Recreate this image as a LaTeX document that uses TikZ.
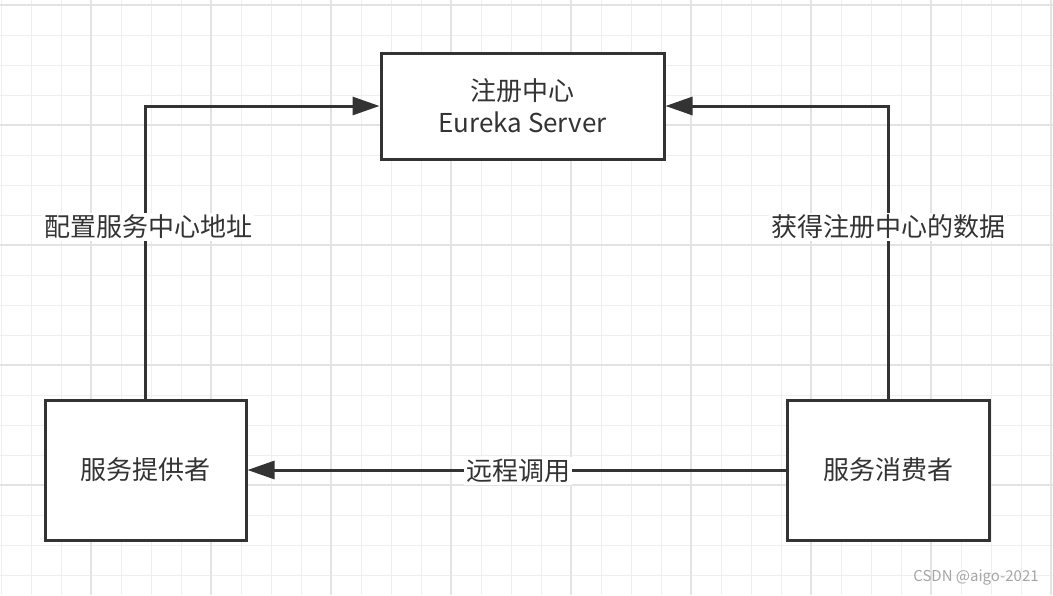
\documentclass[tikz,border=0pt]{standalone}
\usepackage{fontspec}
\setmainfont{Noto Sans CJK SC}
\usetikzlibrary{arrows.meta,positioning}
\definecolor{ink}{HTML}{333333}
\definecolor{gridminor}{HTML}{EFEFEF}
\definecolor{gridmajor}{HTML}{E3E3E3}
\tikzset{
  box/.style={draw=ink, line width=1.5pt, fill=white, text=ink, inner sep=0pt, align=center, font=\fontsize{13}{16}\selectfont},
  conn/.style={draw=ink, line width=1.5pt, -{Triangle[length=13.5pt,width=9pt]}},
  lbl/.style={fill=white, text=ink, inner sep=1pt, font=\fontsize{13}{16}\selectfont},
}
\begin{document}
\begin{tikzpicture}[x=0.5pt,y=-0.5pt]
\useasboundingbox (0,0) rectangle (1053,595);
\fill[white] (0,0) rectangle (1053,595);
% background grid
\foreach \x in {1,31,...,1051} \draw[gridminor, line width=0.5pt] (\x,0) -- (\x,595);
\foreach \y in {5,35,...,595} \draw[gridminor, line width=0.5pt] (0,\y) -- (1053,\y);
\foreach \x in {91,211,...,1051} \draw[gridmajor, line width=0.6pt] (\x,0) -- (\x,595);
\foreach \y in {5,125,...,595} \draw[gridmajor, line width=0.6pt] (0,\y) -- (1053,\y);
% boxes
\node[box, minimum width=141.5pt, minimum height=53pt] (box_registry) at (522.5,106) {注册中心\\Eureka Server};
\node[box, minimum width=100.5pt, minimum height=70pt] (box_provider) at (145.5,470) {服务提供者};
\node[box, minimum width=101pt, minimum height=70pt] (box_consumer) at (888,470) {服务消费者};
% connectors
\draw[conn] (box_provider.north) |- (box_registry.west);
\draw[conn] (box_consumer.north) |- (box_registry.east);
\draw[conn] (box_consumer.west) -- (box_provider.east);
% labels
\node[lbl] (label_addr) at (148,227) {配置服务中心地址};
\node[lbl] (label_fetch) at (888,227) {获得注册中心的数据};
\node[lbl] (label_rpc) at (518,471) {远程调用};
\node[text=gray!70, font=\fontsize{7.5}{9}\selectfont] (label_mark) at (976,578) {CSDN @aigo-2021};
\end{tikzpicture}
\end{document}
